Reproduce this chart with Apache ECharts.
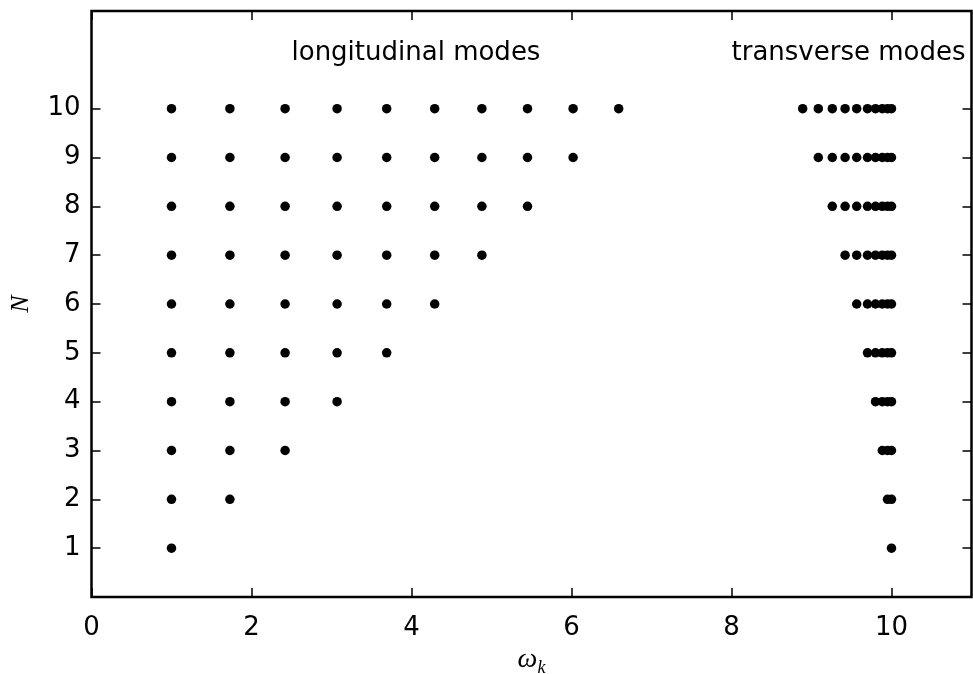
<!DOCTYPE html>
<html>
<head>
<meta charset="utf-8">
<script src="https://cdn.jsdelivr.net/npm/echarts@6/dist/echarts.min.js"></script>
<style>
  html, body { margin: 0; padding: 0; background: #ffffff; }
  #chart { width: 973px; height: 674px; }
</style>
</head>
<body>
<div id="chart"></div>
<script>
// Number of masses in the chain (one row of modes per N)
const N_VALUES = [1, 2, 3, 4, 5, 6, 7, 8, 9, 10];
// Longitudinal mode frequencies; row N uses the first N of them
const LONGITUDINAL_FREQS = [1.00, 1.73, 2.42, 3.07, 3.69, 4.29, 4.88, 5.45, 6.02, 6.59];
// Transverse mode frequencies; row N uses the first N of them
const TRANSVERSE_FREQS = [10.00, 9.95, 9.885, 9.80, 9.70, 9.565, 9.42, 9.26, 9.085, 8.89];
// Tick values
const X_TICKS = [0, 2, 4, 6, 8, 10];
const Y_TICKS = [1, 2, 3, 4, 5, 6, 7, 8, 9, 10];
// Region labels and their anchor (left end of baseline) in data units
const REGION_LABELS = ['longitudinal modes', 'transverse modes'];
const REGION_LABEL_X = [2.5, 8];
const REGION_LABEL_Y = [11, 11];

const points = [];
N_VALUES.forEach(function (n) {
  for (let k = 0; k < n; k++) {
    points.push([LONGITUDINAL_FREQS[k], n]);
    points.push([TRANSVERSE_FREQS[k], n]);
  }
});

const labelData = REGION_LABELS.map(function (txt, i) {
  return { name: txt, value: [REGION_LABEL_X[i], REGION_LABEL_Y[i]] };
});

const FONT = 'DejaVu Sans';
const MATH_FONT = 'Liberation Serif';

const chart = echarts.init(document.getElementById('chart'), null, { renderer: 'canvas' });

function ticks(values) {
  return { show: true, inside: true, length: 9, customValues: values, lineStyle: { color: '#000', width: 1.5 } };
}
const hiddenLine = { show: false, onZero: false };

chart.setOption({
  animation: false,
  backgroundColor: '#ffffff',
  grid: {
    left: 91.5, right: 1.5, top: 11, bottom: 77,
    show: true, borderColor: '#000', borderWidth: 2.5,
    containLabel: false, outerBoundsMode: 'none'
  },
  xAxis: [
    {
      type: 'value', min: 0, max: 11, interval: 1, position: 'bottom',
      axisLine: hiddenLine,
      splitLine: { show: false },
      axisTick: ticks(X_TICKS),
      axisLabel: { customValues: X_TICKS, color: '#000', fontFamily: FONT, fontSize: 26, margin: 18 },
      name: '{w|ω}{k|k}',
      nameLocation: 'middle',
      nameGap: 39,
      nameTextStyle: {
        rich: {
          w: { fontFamily: MATH_FONT, fontStyle: 'italic', fontSize: 28, color: '#000', lineHeight: 34, verticalAlign: 'middle' },
          k: { fontFamily: MATH_FONT, fontStyle: 'italic', fontSize: 18, color: '#000', lineHeight: 18, verticalAlign: 'bottom' }
        }
      }
    },
    {
      type: 'value', min: 0, max: 11, interval: 1, position: 'top',
      axisLine: hiddenLine,
      splitLine: { show: false },
      axisTick: ticks(X_TICKS),
      axisLabel: { show: false }
    }
  ],
  yAxis: [
    {
      type: 'value', min: 0, max: 12, interval: 1, position: 'left',
      axisLine: hiddenLine,
      splitLine: { show: false },
      axisTick: ticks(Y_TICKS),
      axisLabel: { customValues: Y_TICKS, color: '#000', fontFamily: FONT, fontSize: 26, margin: 11 },
      name: 'N',
      nameLocation: 'middle',
      nameRotate: 90,
      nameGap: 57,
      nameTextStyle: { fontFamily: MATH_FONT, fontStyle: 'italic', fontSize: 26, color: '#000' }
    },
    {
      type: 'value', min: 0, max: 12, interval: 1, position: 'right',
      axisLine: hiddenLine,
      splitLine: { show: false },
      axisTick: ticks(Y_TICKS),
      axisLabel: { show: false }
    }
  ],
  series: [
    {
      name: 'modes',
      type: 'scatter',
      xAxisIndex: 0, yAxisIndex: 0,
      symbol: 'circle',
      symbolSize: 9.5,
      itemStyle: { color: '#000', opacity: 1 },
      data: points,
      silent: true
    },
    {
      name: 'region labels',
      type: 'scatter',
      xAxisIndex: 0, yAxisIndex: 0,
      symbolSize: 0,
      itemStyle: { opacity: 1 },
      data: labelData,
      silent: true,
      label: {
        show: true,
        position: 'inside',
        formatter: '{b}',
        align: 'left',
        verticalAlign: 'bottom',
        offset: [0, 6],
        color: '#000',
        opacity: 1,
        fontFamily: FONT,
        fontSize: 26
      }
    }
  ]
});
</script>
</body>
</html>
